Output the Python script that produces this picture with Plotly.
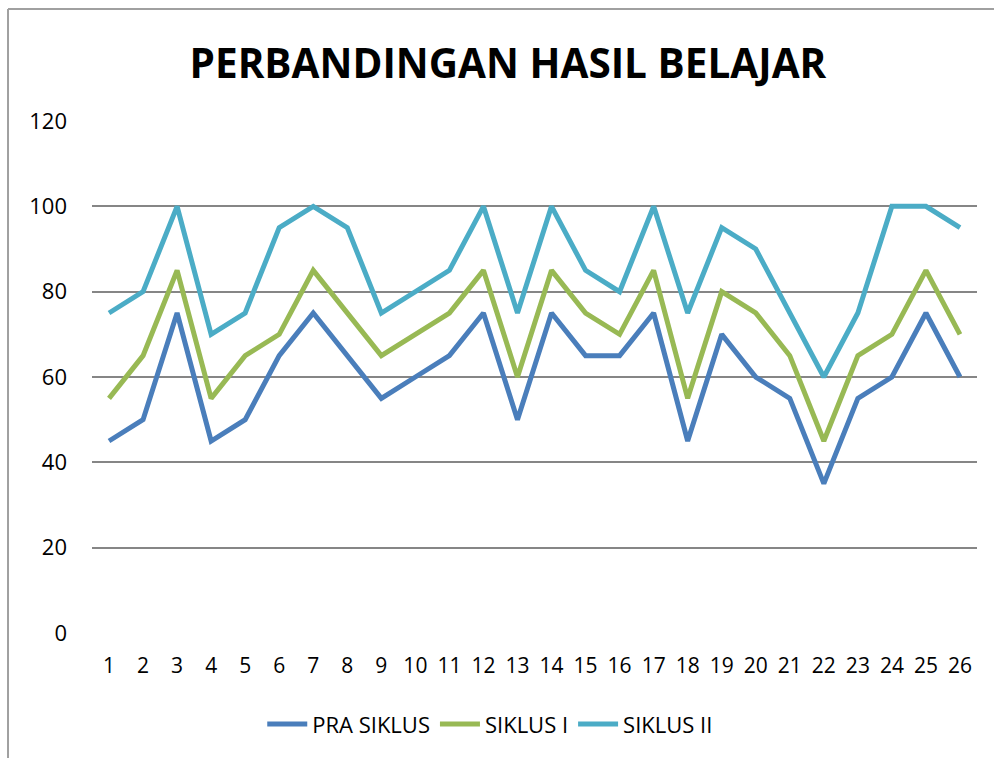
import plotly.graph_objects as go

categories = [str(i) for i in range(1, 27)]
pra_siklus = [45, 50, 75, 45, 50, 65, 75, 65, 55, 60, 65, 75, 50, 75, 65, 65, 75, 45, 70, 60, 55, 35, 55, 60, 75, 60]
siklus_1 = [55, 65, 85, 55, 65, 70, 85, 75, 65, 70, 75, 85, 60, 85, 75, 70, 85, 55, 80, 75, 65, 45, 65, 70, 85, 70]
siklus_2 = [75, 80, 100, 70, 75, 95, 100, 95, 75, 80, 85, 100, 75, 100, 85, 80, 100, 75, 95, 90, 75, 60, 75, 100, 100, 95]
y_ticks = [0, 20, 40, 60, 80, 100, 120]

series = [
    ("PRA SIKLUS", pra_siklus, "#4A7EBB"),
    ("SIKLUS I", siklus_1, "#98B954"),
    ("SIKLUS II", siklus_2, "#4BACC6"),
]

FONT = "Open Sans, sans-serif"

fig = go.Figure()
xs = list(range(1, 27))
for name, vals, color in series:
    fig.add_trace(go.Scatter(x=xs, y=vals, name=name, mode="lines",
                             line=dict(color=color, width=5, shape="linear")))

fig.update_layout(
    width=994, height=758,
    paper_bgcolor="white", plot_bgcolor="white",
    margin=dict(l=92, r=17, t=121, b=125),
    title=dict(text="<b>PERBANDINGAN HASIL BELAJAR</b>", x=0.511, xanchor="center",
               y=1 - 64 / 758, yanchor="middle",
               font=dict(family=FONT, size=40.5, color="black")),
    font=dict(family=FONT, size=21, color="black"),
    showlegend=True,
    legend=dict(orientation="h", x=0.45, xanchor="center", y=-0.178, yanchor="middle",
                font=dict(family=FONT, size=22, color="black"), itemwidth=40,
                entrywidthmode="pixels",
                bgcolor="rgba(0,0,0,0)"),
    xaxis=dict(range=[0.5, 26.5], tickmode="array", tickvals=xs, ticktext=categories,
               showgrid=False, zeroline=False, showline=False, ticks="",
               ticklabelstandoff=18,
               tickfont=dict(family=FONT, size=21)),
    yaxis=dict(range=[0, 120], tickmode="array", tickvals=y_ticks,
               ticktext=[str(v) for v in y_ticks], showgrid=True,
               gridcolor="#868686", gridwidth=1.5, zeroline=False, showline=False,
               ticks="", ticklabelstandoff=24, tickfont=dict(family=FONT, size=22)),
    shapes=[
        dict(type="line", xref="paper", yref="paper", x0=-0.0949, x1=1.05, y0=1.2187, y1=1.2187,
             line=dict(color="#A0A0A0", width=2)),
        dict(type="line", xref="paper", yref="paper", x0=-0.0949, x1=-0.0949, y0=-0.3, y1=1.2187,
             line=dict(color="#A0A0A0", width=2)),
    ],
)

fig.write_html("out.html", config={"displayModeBar": False},
               post_script="document.body.style.margin='0px';document.body.style.overflow='hidden';")
